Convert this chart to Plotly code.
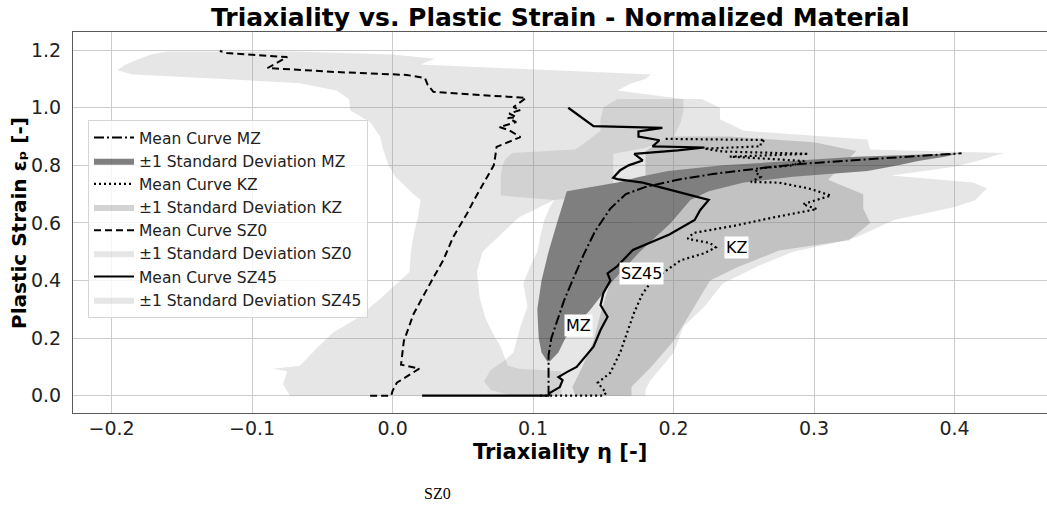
import plotly.graph_objects as go

# ---------------- data: triaxiality (eta) vs plastic strain (eps) ----------------
# Mean curves
mz_eps = [0.0, 0.07, 0.14, 0.20, 0.26, 0.33, 0.40, 0.49, 0.57, 0.65, 0.70, 0.725, 0.75,
          0.77, 0.79, 0.805, 0.82, 0.835, 0.842]
mz_mean = [0.111, 0.111, 0.111, 0.113, 0.117, 0.122, 0.128, 0.136, 0.144, 0.155, 0.166, 0.180,
           0.203, 0.228, 0.262, 0.290, 0.335, 0.380, 0.405]

kz_eps = [0.0, 0.0, 0.010, 0.045, 0.080, 0.150, 0.220, 0.290, 0.355, 0.395, 0.425, 0.470,
          0.495, 0.515, 0.530, 0.545, 0.565, 0.590, 0.620, 0.648, 0.665, 0.695, 0.720,
          0.740, 0.742, 0.760, 0.778, 0.790, 0.800, 0.815, 0.822, 0.830, 0.840, 0.848,
          0.858, 0.866, 0.878, 0.888, 0.892]
kz_mean = [0.105, 0.150, 0.152, 0.146, 0.155, 0.162, 0.167, 0.172, 0.178, 0.184, 0.192, 0.205,
           0.222, 0.230, 0.226, 0.210, 0.214, 0.243, 0.272, 0.302, 0.292, 0.312, 0.296,
           0.275, 0.255, 0.262, 0.258, 0.262, 0.285, 0.293, 0.270, 0.240, 0.296, 0.235,
           0.222, 0.262, 0.262, 0.265, 0.193]

sz0_eps = [0.0, 0.0, 0.017, 0.045, 0.094, 0.108, 0.19, 0.285, 0.41, 0.47, 0.55, 0.633, 0.68,
           0.723, 0.76, 0.80, 0.829, 0.864, 0.898, 0.922, 0.933, 0.95, 0.964, 0.967, 0.98,
           0.992, 1.002, 1.034, 1.055, 1.079, 1.103, 1.114, 1.124, 1.138, 1.176, 1.19, 1.197]
sz0_mean = [-0.016, -0.001, 0.0, 0.003, 0.019, 0.006, 0.008, 0.015, 0.029, 0.036, 0.043, 0.053,
            0.058, 0.063, 0.067, 0.072, 0.073, 0.074, 0.091, 0.083, 0.076, 0.088, 0.082, 0.088,
            0.083, 0.091, 0.086, 0.095, 0.029, 0.025, 0.023, 0.010, -0.040, -0.089, -0.075,
            -0.118, -0.123]

sz45_eps = [0.0, 0.0, 0.01, 0.03, 0.054, 0.065, 0.082, 0.10, 0.17, 0.228, 0.274, 0.315, 0.356,
            0.40, 0.425, 0.45, 0.506, 0.56, 0.61, 0.645, 0.68, 0.713, 0.74, 0.752, 0.757,
            0.783, 0.80, 0.817, 0.84, 0.852, 0.862, 0.866, 0.887, 0.90, 0.918, 0.93, 0.936,
            1.0]
sz45_mean = [0.021, 0.111, 0.112, 0.119, 0.121, 0.118, 0.124, 0.131, 0.143, 0.148, 0.153, 0.148,
             0.150, 0.155, 0.153, 0.160, 0.171, 0.197, 0.215, 0.219, 0.225, 0.200, 0.178, 0.160,
             0.157, 0.162, 0.168, 0.178, 0.172, 0.203, 0.222, 0.185, 0.190, 0.175, 0.175, 0.192,
             0.143, 0.125]

# +/- 1 standard deviation envelopes (lower / upper triaxiality at each strain level)
mz_band_eps = [0.12, 0.15, 0.20, 0.30, 0.40, 0.50, 0.60, 0.68, 0.71, 0.74, 0.76, 0.78, 0.80,
               0.815, 0.83, 0.842]
mz_lo = [0.110, 0.106, 0.104, 0.103, 0.106, 0.111, 0.117, 0.122, 0.124, 0.160, 0.176, 0.196,
         0.235, 0.283, 0.330, 0.404]
mz_hi = [0.112, 0.118, 0.123, 0.141, 0.157, 0.176, 0.198, 0.212, 0.225, 0.250, 0.285, 0.338,
         0.360, 0.374, 0.393, 0.404]

kz_band_eps = [0.0, 0.03, 0.10, 0.19, 0.285, 0.40, 0.445, 0.504, 0.54, 0.60, 0.65, 0.70,
               0.75, 0.80, 0.85, 0.88, 0.90]
kz_lo = [0.130, 0.128, 0.135, 0.143, 0.148, 0.155, 0.158, 0.162, 0.165, 0.170, 0.175, 0.180,
         0.180, 0.180, 0.180, 0.190, 0.200]
kz_hi = [0.170, 0.170, 0.184, 0.200, 0.212, 0.226, 0.245, 0.275, 0.325, 0.340, 0.335, 0.335,
         0.310, 0.320, 0.330, 0.300, 0.240]

sz0_band_eps = [0.0, 0.04, 0.085, 0.094, 0.104, 0.17, 0.22, 0.27, 0.34, 0.43, 0.50, 0.56,
                0.62, 0.68, 0.70, 0.76, 0.80, 0.84, 0.86, 0.90, 0.95, 0.99, 1.03, 1.06,
                1.085, 1.10, 1.115, 1.13, 1.15, 1.17, 1.185, 1.195]
sz0_lo = [-0.073, -0.078, -0.075, -0.085, -0.066, -0.053, -0.042, -0.025, -0.008, 0.012,
          0.013, 0.015, 0.018, 0.020, 0.015, 0.002, -0.003, -0.006, -0.007, -0.009, -0.016,
          -0.030, -0.031, -0.040, -0.066, -0.120, -0.185, -0.196, -0.190, -0.180, -0.172,
          -0.160]
sz0_hi = [0.120, 0.120, 0.120, 0.090, 0.082, 0.077, 0.071, 0.066, 0.062, 0.060, 0.064, 0.077,
          0.090, 0.115, 0.157, 0.157, 0.157, 0.157, 0.180, 0.200, 0.205, 0.207, 0.207, 0.160,
          0.170, 0.180, 0.184, 0.120, 0.020, 0.030, 0.000, -0.070]

sz45_band_eps = [0.0, 0.02, 0.05, 0.09, 0.12, 0.15, 0.24, 0.31, 0.39, 0.45, 0.50, 0.53, 0.55,
                 0.61, 0.655, 0.68, 0.695, 0.72, 0.74, 0.765, 0.795, 0.82, 0.843, 0.855,
                 0.89, 0.92, 0.96, 1.0, 1.03]
sz45_lo = [0.085, 0.070, 0.065, 0.070, 0.079, 0.086, 0.091, 0.096, 0.093, 0.098, 0.103, 0.104,
           0.105, 0.108, 0.112, 0.115, 0.077, 0.077, 0.077, 0.077, 0.078, 0.080, 0.085, 0.130,
           0.140, 0.148, 0.148, 0.150, 0.160]
sz45_hi = [0.180, 0.180, 0.183, 0.190, 0.195, 0.200, 0.207, 0.222, 0.235, 0.260, 0.285, 0.314,
           0.330, 0.357, 0.400, 0.415, 0.418, 0.423, 0.413, 0.355, 0.400, 0.420, 0.435, 0.340,
           0.338, 0.250, 0.233, 0.233, 0.220]

# inline curve labels: (text, eta, eps)
curve_labels = [("MZ", 0.132, 0.245), ("SZ45", 0.177, 0.424), ("KZ", 0.245, 0.516)]

x_ticks = [-0.2, -0.1, 0.0, 0.1, 0.2, 0.3, 0.4]
y_ticks = [0.0, 0.2, 0.4, 0.6, 0.8, 1.0, 1.2]

FONT = "DejaVu Sans"

fig = go.Figure()


def band(eps, lo, hi, color, name, rank):
    fig.add_trace(go.Scatter(
        x=list(lo) + list(hi)[::-1],
        y=list(eps) + list(eps)[::-1],
        mode="lines", fill="toself", fillcolor=color,
        line=dict(width=0, color=color),
        name=name, legendrank=rank, legendgroup=name, hoverinfo="skip"))


def curve(eps, mean, dash, width, name, rank):
    fig.add_trace(go.Scatter(
        x=mean, y=eps, mode="lines",
        line=dict(color="black", width=width, dash=dash),
        name=name, legendrank=rank, legendgroup=name))


band(mz_band_eps, mz_lo, mz_hi, "rgba(0,0,0,0.5)", "±1 Standard Deviation MZ", 2)
band(kz_band_eps, kz_lo, kz_hi, "rgba(128,128,128,0.35)", "±1 Standard Deviation KZ", 4)
band(sz0_band_eps, sz0_lo, sz0_hi, "rgba(128,128,128,0.2)", "±1 Standard Deviation SZ0", 6)
band(sz45_band_eps, sz45_lo, sz45_hi, "rgba(128,128,128,0.2)", "±1 Standard Deviation SZ45", 8)

curve(mz_eps, mz_mean, "10px,3px,2px,3px", 2.0, "Mean Curve MZ", 1)
curve(kz_eps, kz_mean, "2px,3px", 2.2, "Mean Curve KZ", 3)
curve(sz0_eps, sz0_mean, "7px,4px", 2.0, "Mean Curve SZ0", 5)
curve(sz45_eps, sz45_mean, "solid", 2.2, "Mean Curve SZ45", 7)

for text, xv, yv in curve_labels:
    fig.add_annotation(x=xv, y=yv, text=text, showarrow=False,
                       font=dict(family=FONT, size=16, color="black"),
                       bgcolor="white", borderpad=1)

# titles
fig.add_annotation(xref="paper", yref="paper", x=0.5, y=1.037,
                   text="<b>Triaxiality vs. Plastic Strain - Normalized Material</b>",
                   showarrow=False, font=dict(family=FONT, size=25, color="black"),
                   yanchor="middle")
fig.add_annotation(xref="paper", yref="paper", x=0.5, y=-0.103,
                   text="<b>Triaxiality η [-]</b>", showarrow=False,
                   font=dict(family=FONT, size=21, color="black"), yanchor="middle")
fig.add_annotation(xref="paper", yref="paper", x=-0.056, y=0.5,
                   text="<b>Plastic Strain εₚ [-]</b>", showarrow=False,
                   textangle=-90, font=dict(family=FONT, size=20, color="black"),
                   xanchor="center", yanchor="middle")
fig.add_annotation(xref="paper", yref="paper", x=0.3747, y=-0.21, text="SZ0",
                   showarrow=False, font=dict(family="Liberation Serif", size=16, color="black"),
                   yanchor="middle")

axis_common = dict(showgrid=True, gridcolor="#cccccc", gridwidth=1, zeroline=False,
                   showline=True, linecolor="#5a5a5a", linewidth=1.2, ticks="",
                   tickfont=dict(family=FONT, size=19, color="#222222"))

fig.update_xaxes(range=[-0.2275, 0.4658], tickvals=x_ticks,
                 ticktext=[f"{v:.1f}".replace("-", "−") for v in x_ticks],
                 mirror=True, ticklabelstandoff=-2, **axis_common)
fig.update_yaxes(range=[-0.060, 1.263], tickvals=y_ticks,
                 ticktext=[f"{v:.1f}" for v in y_ticks],
                 ticklabelstandoff=7, **axis_common)

fig.update_layout(
    width=1047, height=506,
    margin=dict(l=73, r=0, t=32, b=93),
    paper_bgcolor="white", plot_bgcolor="white",
    showlegend=True,
    legend=dict(x=0.0154, y=0.769, xanchor="left", yanchor="top",
                bgcolor="rgba(255,255,255,0.8)", bordercolor="#d5d5d5", borderwidth=1,
                font=dict(family=FONT, size=15.5, color="#222222"),
                itemwidth=40, tracegroupgap=2, traceorder="normal"),
)

fig.write_html("out.html")
